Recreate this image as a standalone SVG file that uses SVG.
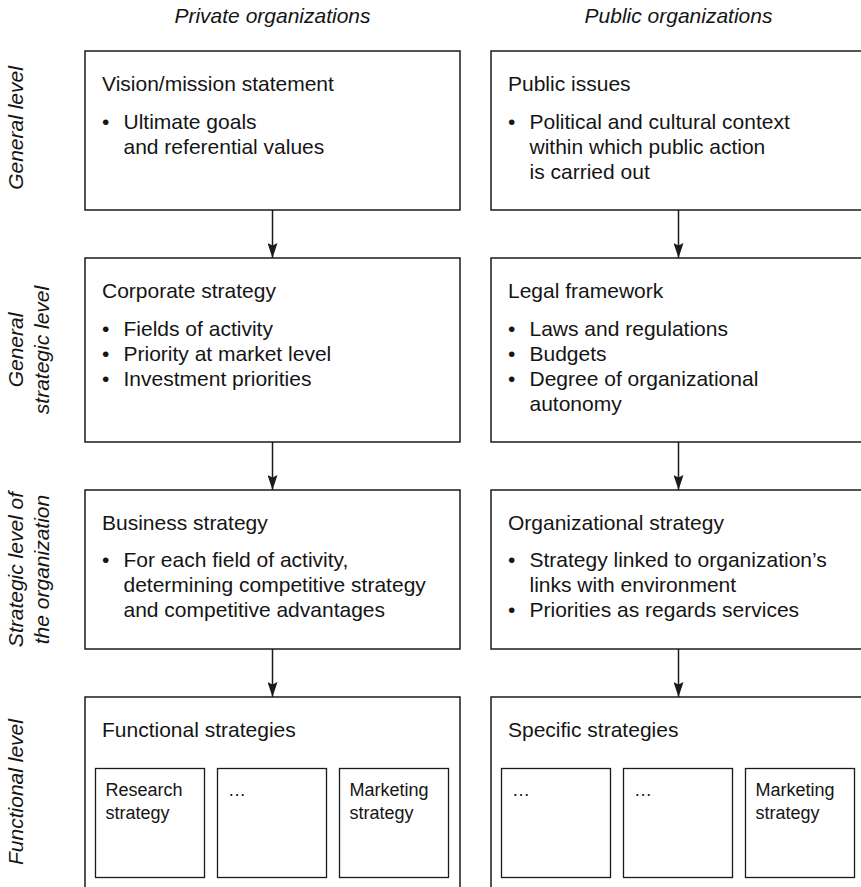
<svg xmlns="http://www.w3.org/2000/svg" width="861" height="887" viewBox="0 0 861 887">
  <style>
    text { font-family: "Liberation Sans", Arial, sans-serif; fill: #151515; }
    .head { font-size: 21px; font-style: italic; text-anchor: middle; }
    .side { font-size: 21px; font-style: italic; text-anchor: middle; }
    .title { font-size: 21px; }
    .item { font-size: 21px; }
    .small { font-size: 18px; }
    .box { fill: #fff; stroke: #1a1a1a; stroke-width: 1.5; }
    .sub { fill: #fff; stroke: #1a1a1a; stroke-width: 1.3; }
    .link { stroke: #1a1a1a; stroke-width: 1.5; fill: none; marker-end: url(#arrow); }
  </style>
  <defs>
    <!-- arrowhead drawn along +x so that orient="auto" turns it with the line -->
    <marker id="arrow" viewBox="0 0 15 10" refX="15" refY="5" markerWidth="15" markerHeight="10" markerUnits="userSpaceOnUse" orient="auto">
      <path d="M0,0 L15,5 L0,10 L2.5,5 Z" fill="#1a1a1a"/>
    </marker>
  </defs>
  <rect width="861" height="887" fill="#fff"/>

  <!-- column headings -->
  <g id="headings">
    <text class="head" x="272.5" y="23">Private organizations</text>
    <text class="head" x="678.5" y="23">Public organizations</text>
  </g>

  <!-- level labels, read bottom to top -->
  <g id="levels">
    <text class="side" transform="translate(23,128) rotate(-90)">General level</text>
    <text class="side" transform="translate(23,350) rotate(-90)">General</text>
    <text class="side" transform="translate(49,350) rotate(-90)">strategic level</text>
    <text class="side" transform="translate(23,569.5) rotate(-90)">Strategic level of</text>
    <text class="side" transform="translate(49,569.5) rotate(-90)">the organization</text>
    <text class="side" transform="translate(23,792) rotate(-90)">Functional level</text>
  </g>

  <!-- connectors (vertical, arrow tip on the next box) -->
  <g id="connectors">
    <line class="link" x1="272.5" y1="210" x2="272.5" y2="258"/>
    <line class="link" x1="272.5" y1="442" x2="272.5" y2="490"/>
    <line class="link" x1="272.5" y1="649" x2="272.5" y2="697"/>
    <line class="link" x1="678.5" y1="210" x2="678.5" y2="258"/>
    <line class="link" x1="678.5" y1="442" x2="678.5" y2="490"/>
    <line class="link" x1="678.5" y1="649" x2="678.5" y2="697"/>
  </g>

  <!-- private column -->
  <g id="vision">
    <rect class="box" x="85" y="51" width="375" height="159"/>
    <text class="title" x="102" y="91">Vision/mission statement</text>
    <text class="item" x="102" y="128.5">•</text>
    <text class="item" x="123.5" y="128.5">Ultimate goals</text>
    <text class="item" x="123.5" y="153.5">and referential values</text>
  </g>
  <g id="corporate">
    <rect class="box" x="85" y="258" width="375" height="184"/>
    <text class="title" x="102" y="298">Corporate strategy</text>
    <text class="item" x="102" y="335.5">•</text>
    <text class="item" x="123.5" y="335.5">Fields of activity</text>
    <text class="item" x="102" y="360.5">•</text>
    <text class="item" x="123.5" y="360.5">Priority at market level</text>
    <text class="item" x="102" y="385.5">•</text>
    <text class="item" x="123.5" y="385.5">Investment priorities</text>
  </g>
  <g id="business">
    <rect class="box" x="85" y="490" width="375" height="159"/>
    <text class="title" x="102" y="530">Business strategy</text>
    <text class="item" x="102" y="567">•</text>
    <text class="item" x="123.5" y="567">For each field of activity,</text>
    <text class="item" x="123.5" y="592">determining competitive strategy</text>
    <text class="item" x="123.5" y="617">and competitive advantages</text>
  </g>
  <g id="functional">
    <rect class="box" x="85" y="697" width="375" height="200"/>
    <text class="title" x="102" y="737">Functional strategies</text>
    <rect class="sub" x="95.5" y="768.5" width="109" height="109"/>
    <text class="small" x="105.5" y="796">Research</text>
    <text class="small" x="105.5" y="819">strategy</text>
    <rect class="sub" x="217.5" y="768.5" width="109" height="109"/>
    <text class="small" x="228" y="796">…</text>
    <rect class="sub" x="339.5" y="768.5" width="109" height="109"/>
    <text class="small" x="349.5" y="796">Marketing</text>
    <text class="small" x="349.5" y="819">strategy</text>
  </g>

  <!-- public column -->
  <g id="public-issues">
    <rect class="box" x="491" y="51" width="375" height="159"/>
    <text class="title" x="508" y="91">Public issues</text>
    <text class="item" x="508" y="128.5">•</text>
    <text class="item" x="529.5" y="128.5">Political and cultural context</text>
    <text class="item" x="529.5" y="153.5">within which public action</text>
    <text class="item" x="529.5" y="178.5">is carried out</text>
  </g>
  <g id="legal">
    <rect class="box" x="491" y="258" width="375" height="184"/>
    <text class="title" x="508" y="298">Legal framework</text>
    <text class="item" x="508" y="335.5">•</text>
    <text class="item" x="529.5" y="335.5">Laws and regulations</text>
    <text class="item" x="508" y="360.5">•</text>
    <text class="item" x="529.5" y="360.5">Budgets</text>
    <text class="item" x="508" y="385.5">•</text>
    <text class="item" x="529.5" y="385.5">Degree of organizational</text>
    <text class="item" x="529.5" y="410.5">autonomy</text>
  </g>
  <g id="organizational">
    <rect class="box" x="491" y="490" width="375" height="159"/>
    <text class="title" x="508" y="530">Organizational strategy</text>
    <text class="item" x="508" y="567">•</text>
    <text class="item" x="529.5" y="567">Strategy linked to organization’s</text>
    <text class="item" x="529.5" y="592">links with environment</text>
    <text class="item" x="508" y="617">•</text>
    <text class="item" x="529.5" y="617">Priorities as regards services</text>
  </g>
  <g id="specific">
    <rect class="box" x="491" y="697" width="375" height="200"/>
    <text class="title" x="508" y="737">Specific strategies</text>
    <rect class="sub" x="501.5" y="768.5" width="109" height="109"/>
    <text class="small" x="512" y="796">…</text>
    <rect class="sub" x="623.5" y="768.5" width="109" height="109"/>
    <text class="small" x="634" y="796">…</text>
    <rect class="sub" x="745.5" y="768.5" width="109" height="109"/>
    <text class="small" x="755.5" y="796">Marketing</text>
    <text class="small" x="755.5" y="819">strategy</text>
  </g>
</svg>
